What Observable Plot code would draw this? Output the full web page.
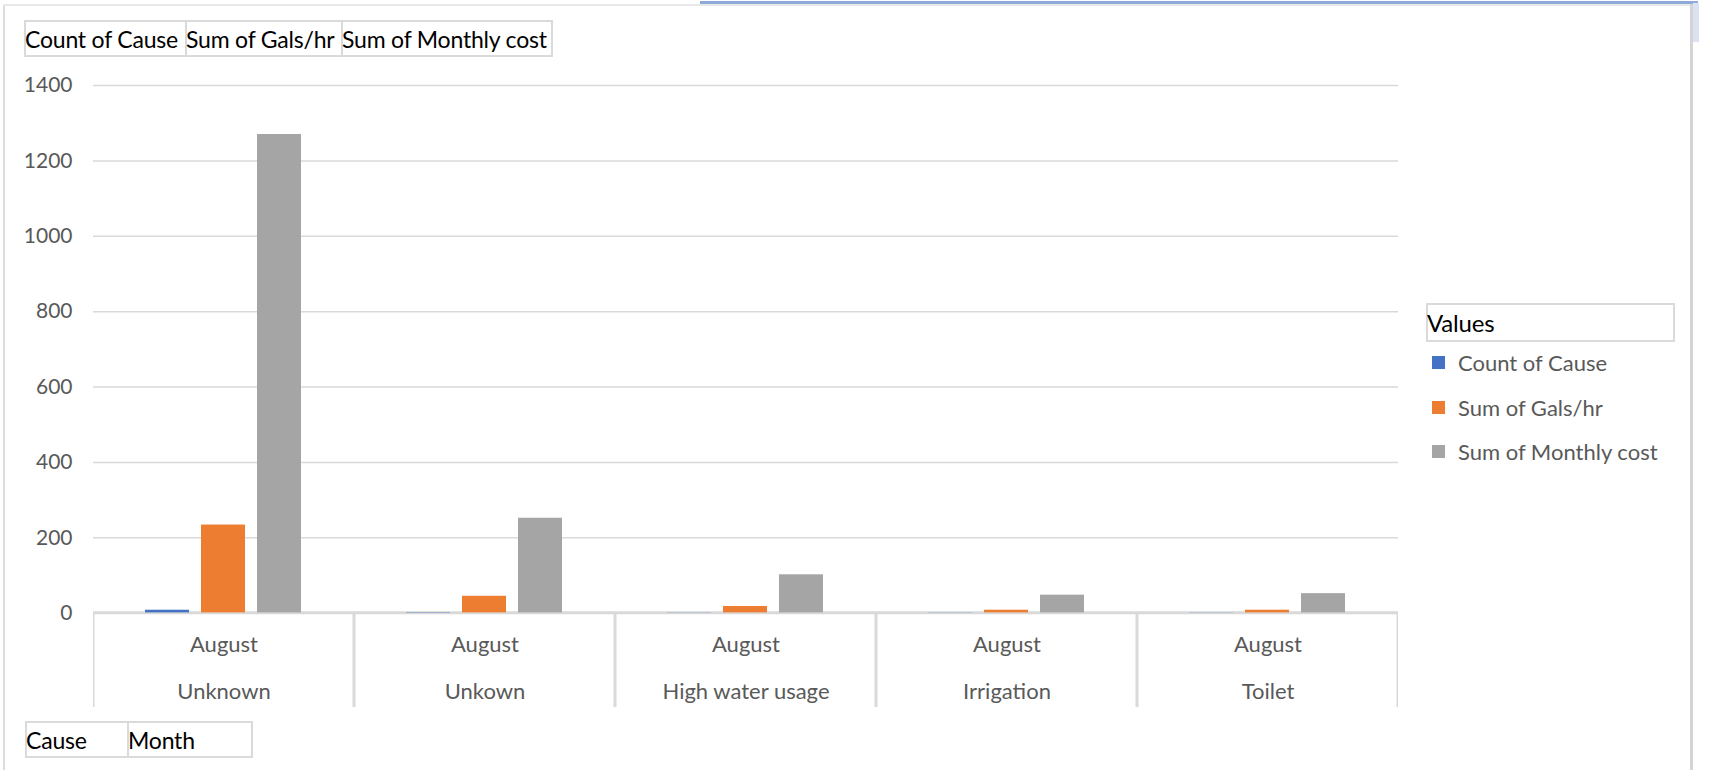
<!DOCTYPE html>
<html>
<head>
<meta charset="utf-8">
<script src="https://cdn.jsdelivr.net/npm/d3@7"></script>
<script src="https://cdn.jsdelivr.net/npm/@observablehq/plot@0.6"></script>
<style>
  html, body { margin: 0; padding: 0; background: #fff; }
  body { width: 1714px; height: 770px; overflow: hidden; position: relative; font-family: Lato, "Open Sans", sans-serif; }
  #chart { position: absolute; left: 0; top: 0; }
  .deco { position: absolute; }
  .box { position: absolute; box-sizing: border-box; border: 2px solid #dadada; color: #000; font-size: 23px; white-space: nowrap; padding-left: 0px; display: flex; align-items: center; overflow: visible; }
  .box span { margin-left: -1px; letter-spacing: -0.2px; }
  .lg-item { position: absolute; left: 1432px; display: flex; align-items: center; font-size: 22px; color: #595959; white-space: nowrap; }
  .lg-sw { width: 13px; height: 13px; margin-right: 13px; }
</style>
</head>
<body>
<div id="chart"></div>
<script>
// ---- data ----
const causes = ["Unknown", "Unkown", "High water usage", "Irrigation", "Toilet"];
const months = ["August", "August", "August", "August", "August"];
const seriesNames = ["Count of Cause", "Sum of Gals/hr", "Sum of Monthly cost"];
const countOfCause = [8, 2, 1, 1, 1];
const sumGalsHr = [234, 45, 18, 8, 8];
const sumMonthlyCost = [1270, 252, 102, 48, 52];
const yTicks = [0, 200, 400, 600, 800, 1000, 1200, 1400];
const seriesColors = ["#4472c4", "#ed7d31", "#a5a5a5"];
const topFields = ["Count of Cause", "Sum of Gals/hr", "Sum of Monthly cost"];
const bottomFields = ["Cause", "Month"];
const legendTitle = "Values";

const seriesValues = [countOfCause, sumGalsHr, sumMonthlyCost];
const rows = [];
causes.forEach((c, i) => {
  seriesNames.forEach((s, j) => rows.push({cause: c, month: months[i], series: s, value: seriesValues[j][i]}));
});
const catRows = causes.map((c, i) => ({cause: c, month: months[i]}));

const gridColor = "#d9d9d9";
const plot = Plot.plot({
  width: 1420,
  height: 717,
  marginLeft: 93,
  marginRight: 22,
  marginTop: 85,
  marginBottom: 10,
  fx: {domain: causes, padding: 0, axis: null},
  x: {domain: seriesNames, paddingInner: 0.21, paddingOuter: 0.9, axis: null},
  y: {domain: [-250, 1400], axis: null},
  color: {domain: seriesNames, range: seriesColors},
  style: {fontFamily: "Lato, 'Open Sans', sans-serif", fontSize: "21px", color: "#595959", background: "transparent"},
  marks: [
    Plot.gridY({ticks: yTicks.filter(t => t > 0), stroke: gridColor, strokeOpacity: 1, strokeWidth: 1.5}),
    Plot.rect([0], {y1: 0, y2: -400, fill: "none", stroke: gridColor, strokeWidth: 3, clip: true}),
    Plot.barY(rows, {fx: "cause", x: "series", y: "value", fill: "series"}),
    Plot.ruleY([0], {stroke: gridColor, strokeWidth: 1.5}),
    Plot.axisY({ticks: yTicks, tickSize: 0, tickPadding: 21, tickFormat: d => String(d), label: null, fill: "#595959"}),
    Plot.text(catRows, {fx: "cause", text: d => d.month + "\n" + d.cause, frameAnchor: "bottom", lineAnchor: "bottom", dy: -9, lineHeight: 2.1, fontSize: 22, fill: "#595959"})
  ]
});
document.getElementById("chart").appendChild(plot);

// ---- field buttons, legend, frame decorations ----
function addDiv(cls, style, text) {
  const d = document.createElement("div");
  d.className = cls;
  Object.assign(d.style, style);
  if (text != null) {
    const s = document.createElement("span");
    s.textContent = text;
    d.appendChild(s);
  }
  document.body.appendChild(d);
  return d;
}
// outer frame
addDiv("deco", {left: "3px", top: "4px", width: "2px", height: "766px", background: "#dcdcdc"});
addDiv("deco", {left: "3px", top: "4px", width: "1690px", height: "2px", background: "#e8e8e8"});
addDiv("deco", {left: "700px", top: "1px", width: "998px", height: "3px", background: "#8eaadb"});
addDiv("deco", {left: "1690px", top: "4px", width: "3px", height: "766px", background: "#d4d4d4"});
addDiv("deco", {left: "1693px", top: "3px", width: "6px", height: "39px", background: "#dae3f3"});

const topWidths = [163, 158, 212];
let x0 = 24;
topFields.forEach((t, i) => {
  addDiv("box", {left: x0 + "px", top: "20px", width: topWidths[i] + "px", height: "37px"}, t);
  x0 += topWidths[i] - 2;
});
const botWidths = [104, 126];
x0 = 25;
bottomFields.forEach((t, i) => {
  addDiv("box", {left: x0 + "px", top: "721px", width: botWidths[i] + "px", height: "37px"}, t);
  x0 += botWidths[i] - 2;
});
addDiv("box", {left: "1426px", top: "303px", width: "249px", height: "39px", fontSize: "24px"}, legendTitle);
const legendY = [362, 407, 451];
seriesNames.forEach((s, i) => {
  const it = document.createElement("div");
  it.className = "lg-item";
  it.style.top = (legendY[i] - 12) + "px";
  it.style.height = "24px";
  const sw = document.createElement("span");
  sw.className = "lg-sw";
  sw.style.background = seriesColors[i];
  it.appendChild(sw);
  it.appendChild(document.createTextNode(s));
  document.body.appendChild(it);
});
</script>
</body>
</html>
